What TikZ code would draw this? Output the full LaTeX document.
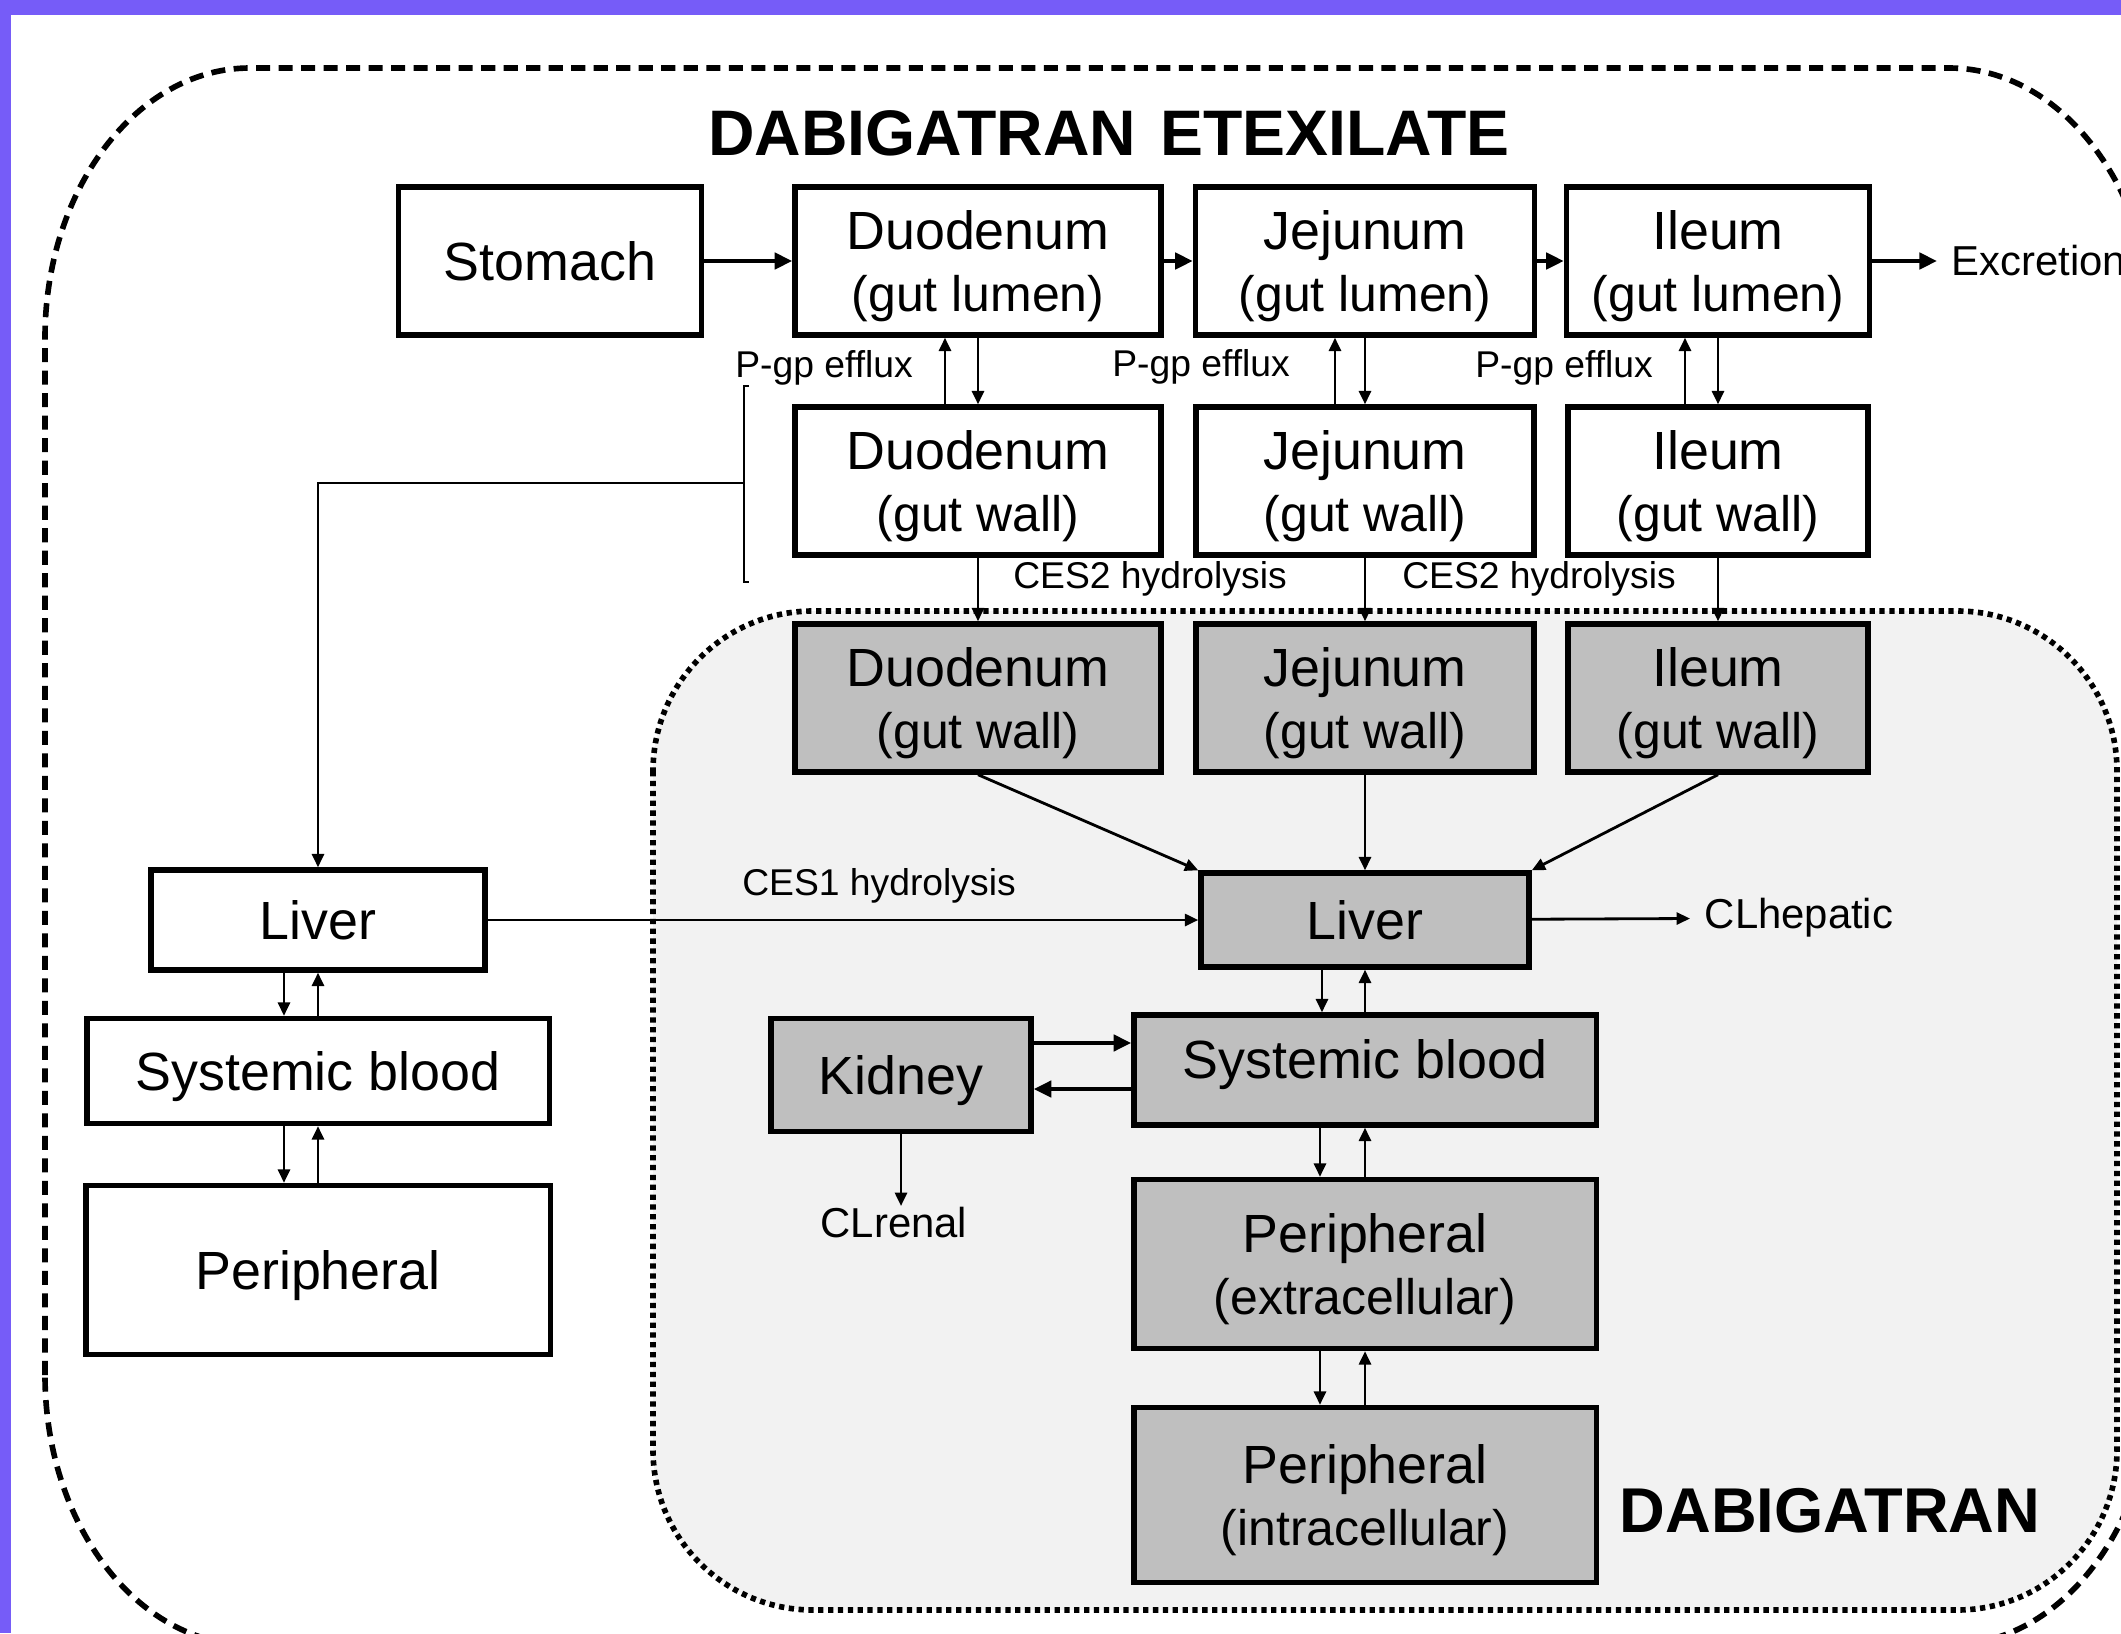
\documentclass[tikz,border=0pt]{standalone}
\usepackage{fontspec}
\setmainfont{Liberation Sans}
\usetikzlibrary{arrows.meta}
\definecolor{edge}{RGB}{118,92,248}
\definecolor{boxgray}{RGB}{191,191,191}
\definecolor{zone}{RGB}{242,242,242}
\newcommand{\subl}[1]{{\fontsize{14.2}{17.5}\selectfont #1}}

\begin{document}
\begin{tikzpicture}[x=0.01cm, y=-0.01cm,
  box/.style={draw, line width=1.5pt, inner sep=0pt, text depth=0pt, align=center, font=\fontsize{15.3}{17.5}\selectfont},
  cbox/.style={box, fill=boxgray},
  lab/.style={font=\fontsize{10.6}{12}\selectfont, inner sep=0pt},
  cl/.style={font=\fontsize{11.9}{13}\selectfont, inner sep=4pt, anchor=west},
  flow/.style={-{Triangle[length=3.8pt,width=3.4pt]}, line width=0.8pt},
  bflow/.style={-{Triangle[length=5pt,width=4.6pt]}, line width=1.1pt}]
  \clip (0,0) rectangle (2121,1633);
  \fill[edge] (0,0) rectangle (2121,1633);
  \fill[white] (11,15) rectangle (2121,1633);
  % prodrug frame and dabigatran zone
  \draw[line width=1.6pt, dash pattern=on 4pt off 2.4pt] (45,1375) -- (45,338) .. controls (45,189) and (137,68) .. (250,68) -- (1949,68) .. controls (2062,68) and (2154,189) .. (2154,338) -- (2154,1375) .. controls (2154,1524) and (2062,1645) .. (1949,1645) -- (250,1645) .. controls (137,1645) and (45,1524) .. (45,1375) -- cycle;
  \draw[fill=zone, line width=1.6pt, dash pattern=on 1.5pt off 1.3pt, rounded corners=1.6cm] (653,611) rectangle (2117,1610);
  \node[font=\fontsize{18.3}{20}\selectfont\bfseries] (ttl) at (1109,133) {DABIGATRAN\hspace{7pt}ETEXILATE};
  \node[font=\fontsize{18}{20}\selectfont\bfseries] (dab) at (1830,1511) {DABIGATRAN};
  % gut lumen
  \node[box, minimum width=3.03cm, minimum height=1.48cm] (stom) at (550,261) {Stomach};
  \node[box, minimum width=3.66cm, minimum height=1.48cm] (dlum) at (978,261) {Duodenum\\\subl{(gut lumen)}};
  \node[box, minimum width=3.39cm, minimum height=1.48cm] (jlum) at (1365,261) {Jejunum\\\subl{(gut lumen)}};
  \node[box, minimum width=3.03cm, minimum height=1.48cm] (ilum) at (1718,261) {Ileum\\\subl{(gut lumen)}};
  \node[cl] (exc) at (1937,261) {Excretion};
  % gut wall (prodrug)
  \node[box, minimum width=3.66cm, minimum height=1.48cm] (dwall) at (978,481) {Duodenum\\\subl{(gut wall)}};
  \node[box, minimum width=3.38cm, minimum height=1.48cm] (jwall) at (1365,481) {Jejunum\\\subl{(gut wall)}};
  \node[box, minimum width=3.00cm, minimum height=1.48cm] (iwall) at (1718,481) {Ileum\\\subl{(gut wall)}};
  \node[lab] (pg1) at (824,368) {P-gp efflux};
  \node[lab] (pg2) at (1201,367) {P-gp efflux};
  \node[lab] (pg3) at (1564,368) {P-gp efflux};
  \node[lab] (ces2a) at (1150,579) {CES2 hydrolysis};
  \node[lab] (ces2b) at (1539,579) {CES2 hydrolysis};
  % gut wall (dabigatran)
  \node[cbox, minimum width=3.66cm, minimum height=1.48cm] (dgut) at (978,698) {Duodenum\\\subl{(gut wall)}};
  \node[cbox, minimum width=3.38cm, minimum height=1.48cm] (jgut) at (1365,698) {Jejunum\\\subl{(gut wall)}};
  \node[cbox, minimum width=3.00cm, minimum height=1.48cm] (igut) at (1718,698) {Ileum\\\subl{(gut wall)}};
  % dabigatran body
  \node[cbox, minimum width=3.28cm, minimum height=0.94cm] (liverG) at (1365,920) {Liver};
  \node[cbox, minimum width=4.62cm, minimum height=1.10cm, text depth=6pt] (sysG) at (1365,1070) {Systemic blood};
  \node[cbox, minimum width=2.60cm, minimum height=1.13cm] (kidney) at (901,1075) {Kidney};
  \node[cbox, minimum width=4.62cm, minimum height=1.69cm] (perE) at (1365,1264) {Peripheral\\\subl{(extracellular)}};
  \node[cbox, minimum width=4.62cm, minimum height=1.75cm] (perI) at (1365,1495) {Peripheral\\\subl{(intracellular)}};
  \node[lab] (ces1) at (879,886) {CES1 hydrolysis};
  \node[cl] (clhep) at (1690,918) {CLhepatic};
  \node[cl, anchor=north, inner sep=0pt] (clren) at (894,1206) {CLrenal};
  % prodrug body
  \node[box, minimum width=3.34cm, minimum height=1.00cm] (liverL) at (318,920) {Liver};
  \node[box, minimum width=4.62cm, minimum height=1.05cm] (sysL) at (318,1071) {Systemic blood};
  \node[box, minimum width=4.64cm, minimum height=1.69cm] (perL) at (318,1270) {Peripheral};
  % lumen transit
  \draw[bflow] (stom) -- (dlum);
  \draw[bflow] (dlum) -- (jlum);
  \draw[bflow] (jlum) -- (ilum);
  \draw[bflow] (ilum) -- (exc);
  % absorption and efflux
  \draw[flow] ([xshift=-0.33cm]dwall.north) -- ([xshift=-0.33cm]dlum.south);
  \draw[flow] (dlum.south) -- (dwall.north);
  \draw[flow] ([xshift=-0.30cm]jwall.north) -- ([xshift=-0.30cm]jlum.south);
  \draw[flow] (jlum.south) -- (jwall.north);
  \draw[flow] ([xshift=-0.33cm]iwall.north) -- ([xshift=-0.33cm]ilum.south);
  \draw[flow] (ilum.south) -- (iwall.north);
  \draw[flow] (dwall.south) -- (dgut.north);
  \draw[flow] (jwall.south) -- (jgut.north);
  \draw[flow] (iwall.south) -- (igut.north);
  \draw[flow] (dgut.south) -- (liverG.north west);
  \draw[flow] (jgut) -- (liverG);
  \draw[flow] (igut.south) -- (liverG.north east);
  % wall to prodrug liver
  \coordinate (bt) at (744,386);
  \coordinate (bb) at (744,582);
  \coordinate (bm) at (744,483);
  \draw[line width=0.8pt] ([xshift=0.05cm]bt) -- (bt) -- (bb) -- ([xshift=0.05cm]bb);
  \draw[flow] (bm) -| (liverL.north);
  \draw[flow] (liverL) -- (liverG);
  \draw[flow] (liverG) -- (clhep);
  % exchanges
  \draw[flow] ([xshift=-0.43cm]liverG.south) -- ([xshift=-0.43cm]sysG.north);
  \draw[flow] (sysG.north) -- (liverG.south);
  \draw[flow] ([xshift=-0.45cm]sysG.south) -- ([xshift=-0.45cm]perE.north);
  \draw[flow] (perE.north) -- (sysG.south);
  \draw[flow] ([xshift=-0.45cm]perE.south) -- ([xshift=-0.45cm]perI.north);
  \draw[flow] (perI.north) -- (perE.south);
  \coordinate (k1) at ([yshift=0.32cm]kidney.east);
  \coordinate (k2) at ([yshift=-0.14cm]kidney.east);
  \draw[bflow] (k1) -- (k1 -| sysG.west);
  \draw[bflow] (k2 -| sysG.west) -- (k2);
  \draw[flow] (kidney.south) -- (kidney.south |- clren.north);
  \draw[flow] ([xshift=-0.34cm]liverL.south) -- ([xshift=-0.34cm]sysL.north);
  \draw[flow] (sysL.north) -- (liverL.south);
  \draw[flow] ([xshift=-0.34cm]sysL.south) -- ([xshift=-0.34cm]perL.north);
  \draw[flow] (perL.north) -- (sysL.south);
\end{tikzpicture}
\end{document}
